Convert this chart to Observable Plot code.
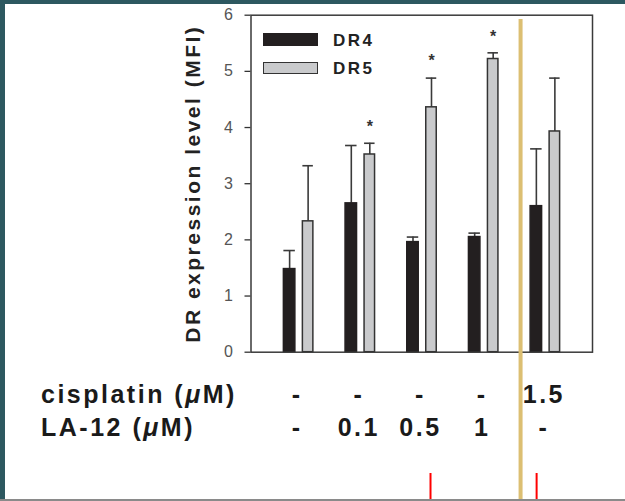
<!DOCTYPE html>
<html>
<head>
<meta charset="utf-8">
<script src="https://cdn.jsdelivr.net/npm/d3@7"></script>
<script src="https://cdn.jsdelivr.net/npm/@observablehq/plot@0.6"></script>
<style>
  html, body { margin: 0; padding: 0; overflow: hidden; background: #fff; }
  #wrap { position: relative; width: 625px; height: 501px; overflow: hidden; background: #fff; font-family: "Liberation Sans", Arial, sans-serif; }
  #chart svg { position: absolute; left: 0; top: 0; }
  .bt { position: absolute; left: 0; top: 0; width: 625px; height: 4px; background: #2d5860; }
  .bl { position: absolute; left: 0; top: 0; width: 5px; height: 501px; background: #2d5860; }
  .bb { position: absolute; left: 0; top: 499px; width: 625px; height: 2px; background: #8a8a8a; }
  .legend { position: absolute; left: 0; top: 0; }
  .sw { position: absolute; left: 263px; width: 55px; box-sizing: border-box; }
  .lt { position: absolute; left: 333px; font-size: 17px; font-weight: bold; letter-spacing: 2.5px; color: #222; line-height: 1; }
</style>
</head>
<body>
<div id="wrap">
  <div id="chart"></div>
  <div class="legend">
    <div class="sw" id="sw4" style="top:33px;height:13px;background:#231f20;"></div>
    <div class="lt" id="lt4" style="top:32px;">DR4</div>
    <div class="sw" id="sw5" style="top:62px;height:12px;background:#c9cacc;border:1.5px solid #333;"></div>
    <div class="lt" id="lt5" style="top:60px;">DR5</div>
  </div>
  <div class="bt"></div><div class="bl"></div><div class="bb"></div>
</div>
<script>
// ---- data ----
const cisplatin = ["-", "-", "-", "-", "1.5"];
const la12 = ["-", "0.1", "0.5", "1", "-"];
const dr4 = [1.48, 2.65, 1.96, 2.05, 2.60];
const dr4Err = [0.33, 1.03, 0.09, 0.07, 1.02];
const dr5 = [2.33, 3.52, 4.36, 5.22, 3.93];
const dr5Err = [0.99, 0.20, 0.52, 0.11, 0.95];
const dr5Sig = [null, 4.08, 5.25, 5.68, null];
const rowLabels = ["cisplatin (μM)", "LA-12 (μM)"];
const yTicks = [0, 1, 2, 3, 4, 5, 6];
const guideX = [3.59];          // tan vertical marker (group-index units)
const redX = [2.13, 3.85];      // short red markers

// ---- build table ----
const rows = [];
cisplatin.forEach((c, i) => {
  rows.push({i, series: "DR4", value: dr4[i], err: dr4Err[i]});
  rows.push({i, series: "DR5", value: dr5[i], err: dr5Err[i]});
});
const sig = dr5Sig.map((v, i) => ({i, v})).filter(d => d.v != null);
const groupIdx = cisplatin.map((c, i) => i);

// bar placement within a group (group-index units)
const off = {DR4: [-0.247, -0.061], DR5: [0.061, 0.231]};
const ctr = s => (off[s][0] + off[s][1]) / 2;

const fill = {DR4: "#231f20", DR5: "#c9cacc"};
const stroke = {DR4: "#231f20", DR5: "#333"};

const plot = Plot.plot({
  width: 625,
  height: 501,
  marginLeft: 250.5,
  marginRight: 33,
  marginTop: 14.7,
  marginBottom: 149.3,
  style: {fontFamily: "Liberation Sans, Arial, sans-serif", background: "transparent", overflow: "visible"},
  x: {domain: [-0.78, 4.756], axis: null},
  y: {domain: [0, 6], axis: null},
  marks: [
    Plot.axisY({ticks: yTicks, tickFormat: d => String(d), tickSize: 6, tickPadding: 12, fontSize: 16, stroke: "#333", fill: "#555", strokeWidth: 1.3, label: null}),
    // error whiskers
    Plot.ruleX(rows, {x: d => d.i + ctr(d.series), y1: "value", y2: d => d.value + d.err, stroke: "#3a3a3a", strokeWidth: 1.6}),
    Plot.ruleY(rows, {y: d => d.value + d.err, x1: d => d.i + off[d.series][0], x2: d => d.i + off[d.series][1], stroke: "#3a3a3a", strokeWidth: 1.6}),
    // bars
    Plot.rectY(rows, {
      x1: d => d.i + off[d.series][0],
      x2: d => d.i + off[d.series][1],
      y1: 0, y2: "value",
      fill: d => fill[d.series],
      stroke: d => stroke[d.series],
      strokeWidth: 1.5
    }),
    // significance stars
    Plot.text(sig, {x: d => d.i + ctr("DR5"), y: "v", text: () => "*", fontSize: 16, fontWeight: "bold", fill: "#333", dy: 4}),
    Plot.frame({stroke: "#3a3a3a", strokeWidth: 1.5}),
    // y axis title
    Plot.text(["DR expression level (MFI)"], {frameAnchor: "left", textAnchor: "middle", rotate: -90, dx: -58, fontSize: 21, fontWeight: "bold", fill: "#222"}),
    // treatment table below
    Plot.text(groupIdx, {x: d => d, frameAnchor: "bottom", textAnchor: "middle", text: d => cisplatin[d] + "\n" + la12[d], lineAnchor: "top", dy: 28, dx: -2, fontSize: 25, fontWeight: "bold", lineHeight: 1.3, fill: "#1a1a1a"}),
    Plot.text([rowLabels.join("\n")], {frameAnchor: "bottom-left", textAnchor: "start", lineAnchor: "top", dx: -210, dy: 28, fontSize: 25, fontWeight: "bold", lineHeight: 1.3, fill: "#1a1a1a"}),
    // overlay markers
    Plot.ruleX(guideX, {x: d => d, stroke: "#dcbf72", strokeWidth: 4, insetTop: 4.3, insetBottom: -149.3}),
    Plot.ruleX(redX, {x: d => d, stroke: "#ff0000", strokeWidth: 2, insetTop: 458.3, insetBottom: -149.3})
  ]
});
document.getElementById("chart").appendChild(plot);

// letter spacing as in the reference typography (single-glyph labels are unaffected visually)
d3.select(plot).selectAll("text").filter(function() { return this.textContent.length > 1; })
  .style("letter-spacing", "2.5px");

// italic mu
const svgns = "http://www.w3.org/2000/svg";
function italicMu(el) {
  const s = el.textContent;
  if (!s.includes("μ")) return;
  el.textContent = "";
  s.split(/(μ)/).forEach(part => {
    if (!part) return;
    const t = document.createElementNS(svgns, "tspan");
    if (part === "μ") t.setAttribute("font-style", "italic");
    t.textContent = part;
    el.appendChild(t);
  });
}
d3.select(plot).selectAll("text").filter(function() { return this.textContent.includes("μ"); }).each(function() {
  const spans = Array.from(this.querySelectorAll("tspan"));
  if (spans.length) spans.forEach(italicMu); else italicMu(this);
});
</script>
</body>
</html>
